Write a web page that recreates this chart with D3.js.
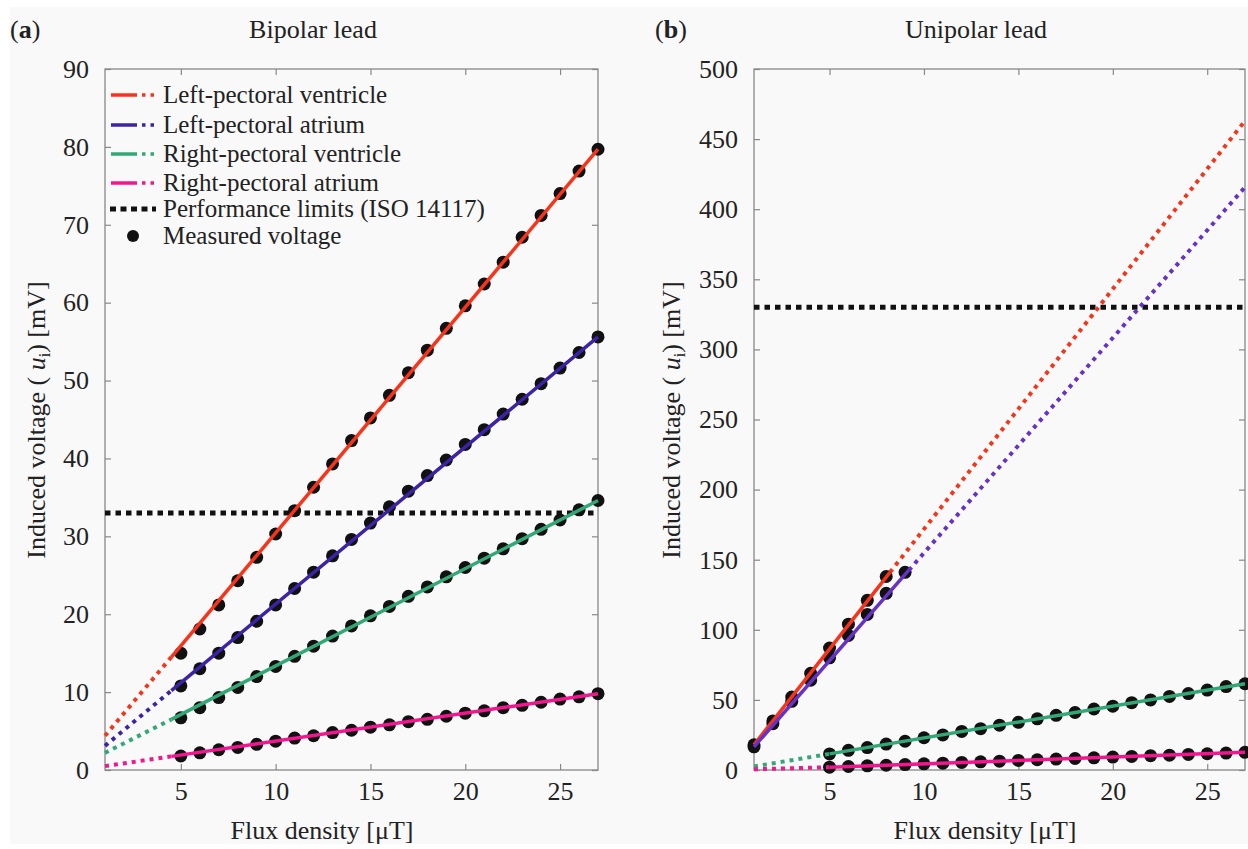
<html><head>
<style>
  body { margin: 0; background: #fff; }
</style>
</head><body>
<svg id="chart" width="1248" height="849"></svg>
<script src="https://cdnjs.cloudflare.com/ajax/libs/d3/7.8.5/d3.min.js"></script>
<script>
// ---- data ----
const xTicks = [5, 10, 15, 20, 25];
const yTicksA = [0, 10, 20, 30, 40, 50, 60, 70, 80, 90];
const yTicksB = [0, 50, 100, 150, 200, 250, 300, 350, 400, 450, 500];

// (a) bipolar lead, measured at 5..27 uT
const fluxA = [5, 6, 7, 8, 9, 10, 11, 12, 13, 14, 15, 16, 17, 18, 19, 20, 21, 22, 23, 24, 25, 26, 27];
const lvA = [15.0, 18.1, 21.2, 24.3, 27.3, 30.3, 33.3, 36.3, 39.3, 42.3, 45.2, 48.1, 51.0, 53.9, 56.7, 59.6, 62.4, 65.2, 68.4, 71.2, 74.0, 76.9, 79.7];
const laA = [10.8, 13.0, 15.0, 17.0, 19.1, 21.2, 23.3, 25.4, 27.5, 29.6, 31.7, 33.8, 35.8, 37.8, 39.8, 41.8, 43.7, 45.7, 47.6, 49.6, 51.6, 53.6, 55.6];
const rvA = [6.7, 8.0, 9.3, 10.6, 12.0, 13.3, 14.6, 15.9, 17.2, 18.5, 19.8, 21.0, 22.3, 23.5, 24.8, 26.0, 27.2, 28.4, 29.7, 30.9, 32.1, 33.4, 34.6];
const raA = [1.8, 2.2, 2.6, 2.9, 3.3, 3.7, 4.1, 4.4, 4.8, 5.1, 5.5, 5.8, 6.2, 6.5, 6.9, 7.3, 7.6, 8.0, 8.3, 8.7, 9.1, 9.4, 9.8];
// fitted lines: solid over the measured range, dotted extension
const fitLvA = { dotted: [[1, 4.4], [4.5, 14.5]], solid: [[4.5, 14.5], [27, 79.7]] };
const fitLaA = { dotted: [[1, 3.1], [4.5, 10.2]], solid: [[4.5, 10.2], [27, 55.6]] };
const fitRvA = { dotted: [[1, 2.2], [4.5, 6.5]], solid: [[4.5, 6.5], [27, 34.6]] };
const fitRaA = { dotted: [[1, 0.5], [4.5, 1.75]], solid: [[4.5, 1.75], [27, 9.8]] };
const limitA = 33;

// (b) unipolar lead
const fluxLvB = [1, 2, 3, 4, 5, 6, 7, 8];
const lvB = [18, 35, 52, 69, 87, 104, 121, 138];
const fluxLaB = [1, 2, 3, 4, 5, 6, 7, 8, 9];
const laB = [16.5, 33, 49, 64, 80, 96, 111, 126, 141];
const fluxB = [5, 6, 7, 8, 9, 10, 11, 12, 13, 14, 15, 16, 17, 18, 19, 20, 21, 22, 23, 24, 25, 26, 27];
const rvB = [11.5, 14, 16, 18.5, 20.5, 23, 25, 27.5, 29.5, 32, 34, 36.5, 39, 41, 43.5, 45.5, 48, 50, 52.5, 54.5, 57, 59.5, 61.5];
const raB = [2.0, 2.5, 3.0, 3.4, 3.9, 4.4, 4.9, 5.4, 5.8, 6.3, 6.8, 7.3, 7.8, 8.2, 8.7, 9.2, 9.7, 10.2, 10.6, 11.1, 11.6, 12.1, 12.6];
const fitLvB = { solid: [[1, 18], [8.2, 141]], dotted: [[8.2, 141], [27, 463]] };
const fitLaB = { solid: [[1, 16.5], [9.2, 142.5]], dotted: [[9.2, 142.5], [27, 415.7]] };
const fitRvB = { dotted: [[1, 2.5], [5, 11.5]], solid: [[5, 11.5], [27, 61.5]] };
const fitRaB = { dotted: [[1, 0.5], [5, 2.0]], solid: [[5, 2.0], [27, 12.6]] };
const limitB = 330;

const legendLabels = ["Left-pectoral ventricle", "Left-pectoral atrium", "Right-pectoral ventricle",
  "Right-pectoral atrium", "Performance limits (ISO 14117)", "Measured voltage"];

const red = "#f7341a", blueA = "#3c22a6", blueB = "#6531c6", green = "#33a877", pink = "#f2178f";

const svg = d3.select("#chart");
svg.append("rect").attr("x", 10).attr("y", 7).attr("width", 1238).attr("height", 837).attr("fill", "#f9f9f9");

function label(sel, size = 26) {
  return sel.style("font-family", '"Liberation Serif"').style("font-size", size + "px").attr("fill", "#222");
}

function drawPanel(opt) {
  const x = d3.scaleLinear().domain([1, 27]).range([opt.left, opt.right]);
  const y = d3.scaleLinear().domain(opt.yDomain).range([770, 69]);
  const g = svg.append("g");

  // axes (inward ticks on all four sides)
  g.append("g").attr("transform", `translate(${opt.left},0)`)
    .call(d3.axisLeft(y).tickValues(opt.yTicks).tickSize(-6).tickPadding(16))
    .call(a => a.select(".domain").remove());
  g.append("g").attr("transform", `translate(${opt.right},0)`)
    .call(d3.axisRight(y).tickValues(opt.yTicks).tickSize(-6).tickFormat(""))
    .call(a => a.select(".domain").remove());
  g.append("g").attr("transform", "translate(0,770)")
    .call(d3.axisBottom(x).tickValues(xTicks).tickSize(-6).tickPadding(12))
    .call(a => a.select(".domain").remove());
  g.append("g").attr("transform", "translate(0,69)")
    .call(d3.axisTop(x).tickValues(xTicks).tickSize(-6).tickFormat(""))
    .call(a => a.select(".domain").remove());
  g.selectAll(".tick line").attr("stroke", "#888").attr("stroke-width", 1.2);
  label(g.selectAll(".tick text"));
  g.append("rect").attr("x", opt.left).attr("y", 69)
    .attr("width", opt.right - opt.left).attr("height", 701)
    .attr("fill", "none").attr("stroke", "#888").attr("stroke-width", 1.3);

  const line = d3.line().x(d => x(d[0])).y(d => y(d[1]));

  // limit line
  g.append("path").attr("d", line([[1, opt.limit], [27, opt.limit]]))
    .attr("stroke", "#111").attr("stroke-width", 5).attr("stroke-dasharray", "5.5 5").attr("fill", "none");

  // measured points
  opt.series.forEach(s => {
    g.append("g").selectAll("circle").data(s.xs.map((v, i) => [v, s.ys[i]])).join("circle")
      .attr("cx", d => x(d[0])).attr("cy", d => y(d[1])).attr("r", 6.5).attr("fill", "#111");
  });
  // fitted lines on top
  opt.series.forEach(s => {
    g.append("path").attr("d", line(s.fit.dotted)).attr("stroke", s.color)
      .attr("stroke-width", 4).attr("stroke-dasharray", "4 5").attr("fill", "none");
    g.append("path").attr("d", line(s.fit.solid)).attr("stroke", s.color)
      .attr("stroke-width", 3.5).attr("fill", "none");
  });

  // titles
  label(svg.append("text")).attr("x", opt.tag).attr("y", 38)
    .call(t => { t.append("tspan").text("("); t.append("tspan").attr("font-weight", "bold").text(opt.letter); t.append("tspan").text(")"); });
  label(svg.append("text")).attr("x", opt.titleX).attr("y", 38).attr("text-anchor", "middle").text(opt.title);
  label(svg.append("text")).attr("x", opt.titleX + 9).attr("y", 839).attr("text-anchor", "middle")
    .text("Flux density [\u03bcT]");
  const yl = label(svg.append("text")).attr("text-anchor", "middle")
    .attr("transform", `translate(${opt.ylabX},420) rotate(-90)`);
  yl.append("tspan").text("Induced voltage ( ");
  yl.append("tspan").attr("font-style", "italic").text("u");
  yl.append("tspan").attr("dy", 5).style("font-size", "16px").text("i");
  yl.append("tspan").attr("dy", -5).text(") [mV]");
}

drawPanel({
  left: 105, right: 598, yDomain: [0, 90], yTicks: yTicksA, limit: limitA,
  letter: "a", tag: 10, title: "Bipolar lead", titleX: 313, ylabX: 45,
  series: [
    { xs: fluxA, ys: lvA, fit: fitLvA, color: red },
    { xs: fluxA, ys: laA, fit: fitLaA, color: blueA },
    { xs: fluxA, ys: rvA, fit: fitRvA, color: green },
    { xs: fluxA, ys: raA, fit: fitRaA, color: pink }
  ]
});
drawPanel({
  left: 754, right: 1245, yDomain: [0, 500], yTicks: yTicksB, limit: limitB,
  letter: "b", tag: 655, title: "Unipolar lead", titleX: 976, ylabX: 680,
  series: [
    { xs: fluxLvB, ys: lvB, fit: fitLvB, color: red },
    { xs: fluxLaB, ys: laB, fit: fitLaB, color: blueB },
    { xs: fluxB, ys: rvB, fit: fitRvB, color: green },
    { xs: fluxB, ys: raB, fit: fitRaB, color: pink }
  ]
});

// legend in panel (a)
const legColors = [red, blueA, green, pink];
const leg = svg.append("g");
legendLabels.forEach((txt, i) => {
  const ly = [95, 125, 154, 183, 209, 236][i];
  if (i < 4) {
    leg.append("line").attr("x1", 111).attr("x2", 137).attr("y1", ly).attr("y2", ly)
      .attr("stroke", legColors[i]).attr("stroke-width", 3.5);
    leg.append("line").attr("x1", 142).attr("x2", 156).attr("y1", ly).attr("y2", ly)
      .attr("stroke", legColors[i]).attr("stroke-width", 3.5).attr("stroke-dasharray", "3.5 5");
  } else if (i === 4) {
    leg.append("line").attr("x1", 110).attr("x2", 156).attr("y1", ly).attr("y2", ly)
      .attr("stroke", "#111").attr("stroke-width", 5).attr("stroke-dasharray", "6 4.5");
  } else {
    leg.append("circle").attr("cx", 133).attr("cy", ly).attr("r", 6).attr("fill", "#111");
  }
  label(leg.append("text"), 25).attr("x", 163).attr("y", ly + 8).text(txt);
});
</script>
</body></html>
